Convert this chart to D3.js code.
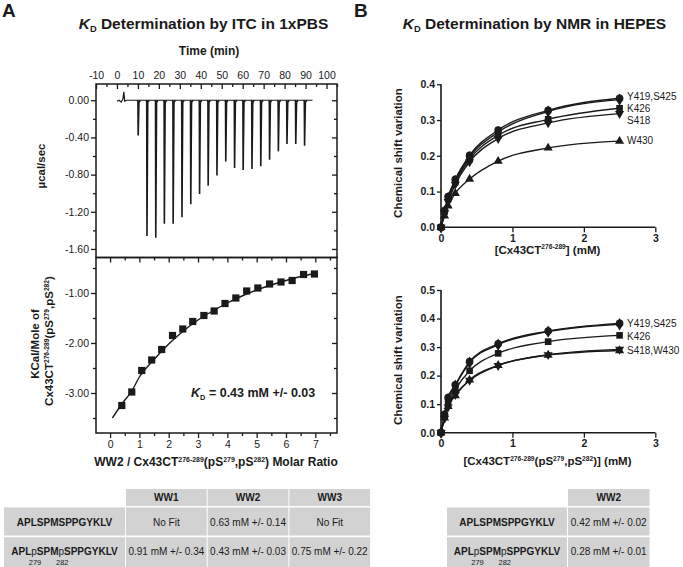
<!DOCTYPE html>
<html><head><meta charset="utf-8">
<script src="https://cdn.jsdelivr.net/npm/d3@7"></script>
<style>
body{margin:0;background:#fff}
text{font-family:"Liberation Sans",Arial,sans-serif;fill:#1a1a1a}
</style>
</head><body><svg id="c" width="683" height="567"></svg>
<script>
// ---------- DATA ----------
// ITC raw thermogram
const injTimes = [10.0,14.2,18.4,22.5,26.7,30.9,35.1,39.3,43.4,47.6,51.8,56.0,60.1,64.3,68.5,72.7,76.9,81.0,85.2,89.4];
const injPeaks = [-0.38,-1.46,-1.48,-1.33,-1.33,-1.26,-1.12,-1.01,-0.92,-0.81,-0.66,-0.73,-0.75,-0.74,-0.71,-0.64,-0.55,-0.47,-0.47,-0.49];
const baseT = [0,1,2,2.8,3.3,3.7,4.5,93.3];
const baseV = [-0.01,0.0,-0.02,0.01,0.09,-0.01,0,0];
// ITC integrated heats
const molarRatio = [0.40,0.74,1.08,1.42,1.76,2.13,2.48,2.82,3.20,3.55,3.92,4.29,4.66,5.04,5.44,5.83,6.21,6.60,6.97];
const heat = [-3.25,-2.98,-2.55,-2.34,-2.13,-1.85,-1.72,-1.57,-1.45,-1.36,-1.21,-1.10,-0.96,-0.90,-0.82,-0.78,-0.75,-0.63,-0.62];
const fitRatio = [0.08,0.4,0.74,1.0,1.5,2.0,2.5,3.0,3.5,4.0,4.5,5.0,5.5,6.0,6.5,7.0];
const fitHeat = [-3.50,-3.22,-2.96,-2.68,-2.33,-2.02,-1.76,-1.54,-1.36,-1.20,-1.06,-0.94,-0.84,-0.75,-0.67,-0.61];
// NMR titrations
const conc = [0,0.05,0.1,0.2,0.4,0.8,1.5,2.5];
const aY419 = [0,0.047,0.086,0.134,0.201,0.272,0.327,0.361];
const aS425 = [0,0.045,0.082,0.130,0.196,0.266,0.324,0.357];
const aK426 = [0,0.044,0.079,0.126,0.190,0.257,0.302,0.333];
const aS418 = [0,0.040,0.072,0.120,0.183,0.248,0.292,0.318];
const aW430 = [0,0.032,0.060,0.095,0.135,0.185,0.222,0.241];
const bY419 = [0,0.064,0.123,0.168,0.249,0.311,0.356,0.383];
const bS425 = [0,0.060,0.118,0.165,0.245,0.308,0.354,0.380];
const bK426 = [0,0.056,0.109,0.152,0.217,0.278,0.319,0.341];
const bS418 = [0,0.050,0.090,0.133,0.183,0.235,0.273,0.292];
const bW430 = [0,0.052,0.092,0.130,0.185,0.236,0.272,0.288];
// Tick labels
const timeTicks = [-10,0,10,20,30,40,50,60,70,80,90,100];
const timeMinor = [-5,5,15,25,35,45,55,65,75,85,95,105];
const itcTopTicks = [0,-0.4,-0.8,-1.2,-1.6];
const itcTopMinor = [-0.2,-0.6,-1.0,-1.4];
const itcBotTicks = [-1,-2,-3];
const itcBotMinor = [-0.5,-1.5,-2.5,-3.5];
const ratioTicks = [0,1,2,3,4,5,6,7];
const ratioMinor = [0.5,1.5,2.5,3.5,4.5,5.5,6.5,7.5];
const nmrXTicks = [0,1,2,3];
const nmrTopYTicks = [0,0.1,0.2,0.3,0.4];
const nmrBotYTicks = [0,0.1,0.2,0.3,0.4,0.5];
// Tables
const tableCols = ["WW1","WW2","WW3"];
const peptides = ["APLSPMSPPGYKLV","APLpSPMpSPPGYKLV"];
const itcKd = [["No Fit","0.63 mM +/- 0.14","No Fit"],["0.91 mM +/- 0.34","0.43 mM +/- 0.03","0.75 mM +/- 0.22"]];
const nmrCols = ["WW2"];
const nmrKd = [["0.42 mM +/- 0.02"],["0.28 mM +/- 0.01"]];

// ---------- HELPERS ----------
const svg = d3.select("#c");
const INK = "#1a1a1a";
function rich(parent, x, y, segs, o = {}) {
  const fs = o.size || 12;
  const t = parent.append("text").attr("x", x).attr("y", y)
    .attr("font-size", fs).attr("font-weight", o.bold ? "bold" : "normal")
    .attr("text-anchor", o.anchor || "start");
  if (o.rotate) t.attr("transform", `rotate(${o.rotate},${x},${y})`);
  let cur = 0;
  segs.forEach(s => {
    const txt = s[0], kind = s[1] || "";
    const sp = t.append("tspan").text(txt);
    let target = 0, size = fs;
    if (kind.includes("sup")) { target = -fs * 0.36; size = fs * 0.58; }
    if (kind.includes("sub")) { target = fs * 0.22; size = fs * 0.6; }
    sp.attr("dy", target - cur); cur = target;
    if (size !== fs) sp.attr("font-size", size);
    if (kind.includes("i")) sp.attr("font-style", "italic");
    if (kind.includes("nb")) sp.attr("font-weight", "normal");
  });
  return t;
}
function axisG(parent, axis, tx, ty, fs, bold) {
  const g = parent.append("g").attr("transform", `translate(${tx},${ty})`).call(axis);
  g.select(".domain").remove();
  g.selectAll("line").attr("stroke", INK).attr("stroke-width", 1.3);
  g.selectAll("text").attr("font-size", fs || 10.5).attr("font-weight", bold ? "bold" : "normal").style("fill", INK);
  return g;
}

// ---------- PANEL LETTERS & TITLES ----------
svg.append("text").attr("x", 2).attr("y", 17).attr("font-size", 19).attr("font-weight", "bold").text("A");
svg.append("text").attr("x", 354).attr("y", 17).attr("font-size", 19).attr("font-weight", "bold").text("B");
rich(svg, 203.5, 28.5, [["K", "i"], ["D", "sub"], [" Determination by ITC in 1xPBS"]], { size: 15.5, bold: true, anchor: "middle" });
rich(svg, 534.5, 28.5, [["K", "i"], ["D", "sub"], [" Determination by NMR in HEPES"]], { size: 15.5, bold: true, anchor: "middle" });

// ---------- ITC PANEL ----------
const L = 96, R = 337, T1 = 84, B1 = 257.5, B2 = 433;
const xTime = d3.scaleLinear().domain([-10, 105]).range([L, R]);
const yRaw = d3.scaleLinear().domain([-1.692, 0.175]).range([B1, T1]);
const xRatio = d3.scaleLinear().domain([-0.48, 7.74]).range([L, R]);
const yHeat = d3.scaleLinear().domain([-3.8, -0.29]).range([B2, B1]);
const gI = svg.append("g");

// top panel axes
axisG(gI, d3.axisTop(xTime).tickValues(timeTicks).tickFormat(d => String(d)).tickSize(-5).tickPadding(5), 0, T1, 10.5);
axisG(gI, d3.axisTop(xTime).tickValues(timeMinor).tickFormat("").tickSize(-3), 0, T1);
axisG(gI, d3.axisLeft(yRaw).tickValues(itcTopTicks).tickFormat(d => d.toFixed(2)).tickSize(5).tickPadding(2), L, 0, 10.5);
axisG(gI, d3.axisLeft(yRaw).tickValues(itcTopMinor).tickFormat("").tickSize(3), L, 0);
axisG(gI, d3.axisRight(yRaw).tickValues(itcTopTicks).tickFormat("").tickSize(-5), R, 0);
axisG(gI, d3.axisRight(yRaw).tickValues(itcTopMinor).tickFormat("").tickSize(-3), R, 0);
// bottom panel axes
axisG(gI, d3.axisBottom(xRatio).tickValues(ratioTicks).tickFormat(d => String(d)).tickSize(5).tickPadding(3), 0, B2, 10.5);
axisG(gI, d3.axisBottom(xRatio).tickValues(ratioMinor).tickFormat("").tickSize(3), 0, B2);
axisG(gI, d3.axisBottom(xRatio).tickValues(ratioTicks).tickFormat("").tickSize(5), 0, B1);
axisG(gI, d3.axisBottom(xRatio).tickValues(ratioMinor).tickFormat("").tickSize(3), 0, B1);
axisG(gI, d3.axisLeft(yHeat).tickValues(itcBotTicks).tickFormat(d => d.toFixed(2)).tickSize(5).tickPadding(2), L, 0, 10.5);
axisG(gI, d3.axisLeft(yHeat).tickValues(itcBotMinor).tickFormat("").tickSize(3), L, 0);
axisG(gI, d3.axisRight(yHeat).tickValues(itcBotTicks).tickFormat("").tickSize(-5), R, 0);
axisG(gI, d3.axisRight(yHeat).tickValues(itcBotMinor).tickFormat("").tickSize(-3), R, 0);

// frames
gI.append("rect").attr("x", L).attr("y", T1).attr("width", R - L).attr("height", B1 - T1)
  .attr("fill", "none").attr("stroke", INK).attr("stroke-width", 1.5);
gI.append("rect").attr("x", L).attr("y", B1).attr("width", R - L).attr("height", B2 - B1)
  .attr("fill", "none").attr("stroke", INK).attr("stroke-width", 1.5);

// raw thermogram
const baseLine = d3.line().x((d, i) => xTime(baseT[i])).y(d => yRaw(d));
gI.append("path").attr("d", baseLine(baseV)).attr("fill", "none").attr("stroke", INK).attr("stroke-width", 1.2);
gI.append("g").selectAll("path").data(injTimes).join("path")
  .attr("d", (t, i) => `M${xTime(t - 0.4)},${yRaw(0)} L${xTime(t)},${yRaw(0) + 1} L${xTime(t + 0.12)},${yRaw(injPeaks[i])} L${xTime(t + 0.5)},${yRaw(0) + 2} L${xTime(t + 1.2)},${yRaw(0)}`)
  .attr("fill", "none").attr("stroke", INK).attr("stroke-width", 1.6);

// integrated heats
const fitLine = d3.line().x((d, i) => xRatio(fitRatio[i])).y(d => yHeat(d)).curve(d3.curveMonotoneX);
gI.append("path").attr("d", fitLine(fitHeat)).attr("fill", "none").attr("stroke", INK).attr("stroke-width", 1.4);
gI.append("g").selectAll("rect").data(heat).join("rect")
  .attr("x", (d, i) => xRatio(molarRatio[i]) - 3.6).attr("y", d => yHeat(d) - 3.6)
  .attr("width", 7.2).attr("height", 7.2).attr("fill", INK);

// ITC labels
rich(gI, 209, 54.5, [["Time (min)"]], { size: 12, bold: true, anchor: "middle" });
rich(gI, 45, 166, [["µcal/sec"]], { size: 11.5, bold: true, anchor: "middle", rotate: -90 });
rich(gI, 38.5, 344, [["KCal/Mole of"]], { size: 11.5, bold: true, anchor: "middle", rotate: -90 });
rich(gI, 53, 341, [["Cx43CT"], ["276-289", "sup"], ["(pS"], ["279", "sup"], [",pS"], ["282", "sup"], [")"]], { size: 11.5, bold: true, anchor: "middle", rotate: -90 });
rich(gI, 216, 466, [["WW2 / Cx43CT"], ["276-289", "sup"], ["(pS"], ["279", "sup"], [",pS"], ["282", "sup"], [") Molar Ratio"]], { size: 12, bold: true, anchor: "middle" });
rich(gI, 191, 397, [["K", "i"], ["D", "sub"], [" = 0.43 mM +/- 0.03"]], { size: 12.5, bold: true });

// ---------- NMR PANELS ----------
const xN = d3.scaleLinear().domain([0, 3]).range([441, 655.3]);
function nmrPanel(yScale, yTicks, series, labels, labelYs, xLabelSegs, xLabelY, yLabelY) {
  const g = svg.append("g");
  const y0 = yScale(0);
  axisG(g, d3.axisLeft(yScale).tickValues(yTicks).tickFormat(d3.format(".1f")).tickSize(4).tickPadding(2), 441, 0, 10.5, true);
  axisG(g, d3.axisBottom(xN).tickValues(nmrXTicks).tickFormat(d => String(d)).tickSize(5).tickPadding(2), 0, y0, 10.5, true);
  g.append("path").attr("d", `M441,${yScale(yTicks[yTicks.length - 1])}V${y0}H${xN(3)}`)
    .attr("fill", "none").attr("stroke", INK).attr("stroke-width", 1.6);
  const line = d3.line().x((d, i) => xN(conc[i])).y(d => yScale(d)).curve(d3.curveMonotoneX);
  series.forEach(s => {
    g.append("path").attr("d", line(s.vals)).attr("fill", "none").attr("stroke", INK).attr("stroke-width", 1.4);
  });
  series.forEach(s => {
    g.append("g").selectAll("path").data(s.vals).join("path")
      .attr("d", d3.symbol().type(s.sym).size(s.size))
      .attr("transform", (d, i) => `translate(${xN(conc[i])},${yScale(d)}) rotate(${s.rot || 0})`)
      .attr("fill", INK);
  });
  labels.forEach((t, i) => g.append("text").attr("x", 627).attr("y", labelYs[i]).attr("font-size", 10).text(t));
  rich(g, 401.5, yLabelY, [["Chemical shift variation"]], { size: 11.5, bold: true, anchor: "middle", rotate: -90 });
  rich(g, 547.5, xLabelY, xLabelSegs, { size: 11.5, bold: true, anchor: "middle" });
}
const nmrTop = d3.scaleLinear().domain([0, 0.4]).range([227.3, 84.3]);
nmrPanel(nmrTop, nmrTopYTicks, [
  { vals: aW430, sym: d3.symbolTriangle, size: 36 },
  { vals: aS418, sym: d3.symbolTriangle, size: 36, rot: 180 },
  { vals: aK426, sym: d3.symbolSquare, size: 44 },
  { vals: aS425, sym: d3.symbolDiamond, size: 44 },
  { vals: aY419, sym: d3.symbolCircle, size: 46 }
], ["Y419,S425", "K426", "S418", "W430"], [100, 111.8, 123.6, 144],
  [["[Cx43CT"], ["276-289", "sup"], ["] (mM)"]], 253.5, 153);

const nmrBot = d3.scaleLinear().domain([0, 0.5]).range([432.7, 290]);
nmrPanel(nmrBot, nmrBotYTicks, [
  { vals: bW430, sym: d3.symbolTriangle, size: 36 },
  { vals: bS418, sym: d3.symbolTriangle, size: 36, rot: 180 },
  { vals: bK426, sym: d3.symbolSquare, size: 44 },
  { vals: bS425, sym: d3.symbolDiamond, size: 44 },
  { vals: bY419, sym: d3.symbolCircle, size: 46 }
], ["Y419,S425", "K426", "S418,W430"], [326.5, 339.5, 354],
  [["[Cx43CT"], ["276-289", "sup"], ["(pS"], ["279", "sup"], [",pS"], ["282", "sup"], [")] (mM)"]], 465, 360);

// ---------- TABLES ----------
const CELL = "#d2d2d2";
const hY = 489, hH = 17, rY = [507.5, 537.2], rH = [28, 29.8];
function table(x0, labelW, colW, cols, vals) {
  const g = svg.append("g");
  cols.forEach((c, j) => {
    const cx = x0 + labelW + 1 + j * (colW + 1);
    g.append("rect").attr("x", cx).attr("y", hY).attr("width", colW).attr("height", hH).attr("fill", CELL);
    g.append("text").attr("x", cx + colW / 2).attr("y", hY + 12).attr("text-anchor", "middle")
      .attr("font-size", 10).attr("font-weight", "bold").text(c);
  });
  peptides.forEach((p, i) => {
    g.append("rect").attr("x", x0).attr("y", rY[i]).attr("width", labelW).attr("height", rH[i]).attr("fill", CELL);
    cols.forEach((c, j) => {
      const cx = x0 + labelW + 1 + j * (colW + 1);
      g.append("rect").attr("x", cx).attr("y", rY[i]).attr("width", colW).attr("height", rH[i]).attr("fill", CELL);
      g.append("text").attr("x", cx + colW / 2).attr("y", rY[i] + (i === 0 ? 18.2 : 17.8)).attr("text-anchor", "middle")
        .attr("font-size", 10).text(vals[i][j]);
    });
  });
  // peptide labels
  const cxL = x0 + labelW / 2;
  g.append("text").attr("x", cxL).attr("y", rY[0] + 18.2).attr("text-anchor", "middle")
    .attr("font-size", 10).attr("font-weight", "bold").text(peptides[0]);
  const t2 = rich(g, cxL, rY[1] + 17.8, [["APL"], ["p", "nb"], ["SPM"], ["p", "nb"], ["SPPGYKLV"]], { size: 10, bold: true, anchor: "middle" });
  const el = t2.node();
  [[3, "279"], [7, "282"]].forEach(([ci, lab]) => {
    const a = el.getStartPositionOfChar(ci).x, b = el.getEndPositionOfChar(ci).x;
    g.append("text").attr("x", (a + b) / 2 + 1).attr("y", rY[1] + 27.5).attr("text-anchor", "middle")
      .attr("font-size", 7.5).text(lab);
  });
}
table(4, 121, 80.7, tableCols, itcKd);
table(447, 120, 81.5, nmrCols, nmrKd);
</script>
</body></html>
